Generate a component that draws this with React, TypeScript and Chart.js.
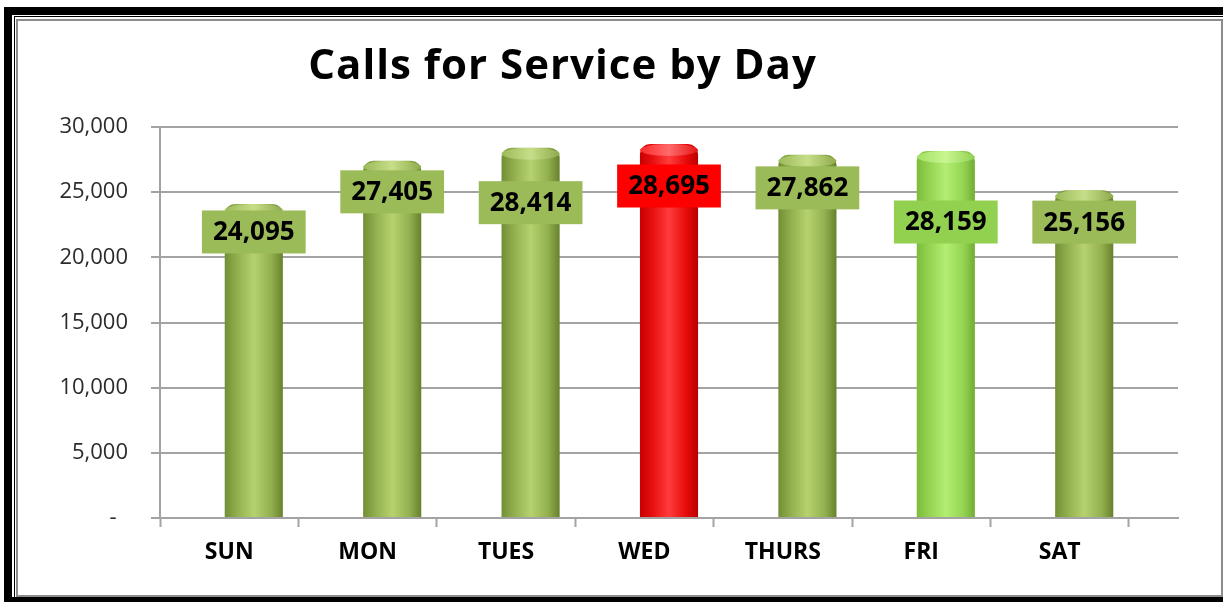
import React, { useEffect, useRef } from 'react';
import { Chart, registerables } from 'chart.js';

Chart.register(...registerables);

// ---- data ----
const TITLE = 'Calls for Service by Day';
const days = ['SUN', 'MON', 'TUES', 'WED', 'THURS', 'FRI', 'SAT'];
const calls = [24095, 27405, 28414, 28695, 27862, 28159, 25156];
const yTickValues = [0, 5000, 10000, 15000, 20000, 25000, 30000];
const yTickLabels = ['-  ', '5,000', '10,000', '15,000', '20,000', '25,000', '30,000'];

// ---- styling (not data) ----
const barTheme = ['olive', 'olive', 'olive', 'red', 'olive', 'lime', 'olive'];
const labelDrop = [28, 31, 55, 42, 33, 71, 32];

type Stops = [number, string][];
const THEMES: Record<string, { bar: Stops; cap: Stops; label: string }> = {
  olive: {
    bar: [[0, '#728e35'], [0.22, '#93b04f'], [0.5, '#b6d26f'], [0.8, '#93b04f'], [1, '#67812c']],
    cap: [[0, '#9cba5a'], [0.5, '#c6de88'], [1, '#8fab4c']],
    label: '#9bbb59',
  },
  red: {
    bar: [[0, '#c80000'], [0.22, '#e81010'], [0.5, '#ff3c3c'], [0.8, '#e60a0a'], [1, '#b80000']],
    cap: [[0, '#ff2a2a'], [0.5, '#ff6a6a'], [1, '#e41515']],
    label: '#ff0000',
  },
  lime: {
    bar: [[0, '#7cbc3a'], [0.22, '#94d452'], [0.5, '#b3ee72'], [0.8, '#94d452'], [1, '#70ad33']],
    cap: [[0, '#a2e062'], [0.5, '#c8f692'], [1, '#94d052']],
    label: '#92d050',
  },
};

const FONT = '"Open Sans", "Noto Sans", sans-serif';
const GRID = '#a3a3a3';
const DEPTH = 0.1776; // 3D depth shift in category units
const BAR_FRACTION = 0.42;
const CAP_RY = 6;

function makeGradient(c: CanvasRenderingContext2D, x0: number, x1: number, stops: Stops) {
  const g = c.createLinearGradient(x0, 0, x1, 0);
  stops.forEach(([o, col]) => g.addColorStop(o, col));
  return g;
}

const cylinderPlugin = {
  id: 'cylinderCaps',
  afterDatasetsDraw(chart: any) {
    const c: CanvasRenderingContext2D = chart.ctx;
    const meta = chart.getDatasetMeta(0);
    c.save();
    meta.data.forEach((bar: any, i: number) => {
      const { x, y, width } = bar.getProps(['x', 'y', 'width'], true);
      const rx = width / 2;
      const th = THEMES[barTheme[i]];
      c.beginPath();
      c.ellipse(x, y + CAP_RY, rx, CAP_RY, 0, 0, Math.PI * 2);
      c.fillStyle = makeGradient(c, x - rx, x + rx, th.cap);
      c.fill();
    });
    // data labels
    c.font = `bold 26px ${FONT}`;
    c.textAlign = 'center';
    c.textBaseline = 'middle';
    meta.data.forEach((bar: any, i: number) => {
      const { x, y } = bar.getProps(['x', 'y'], true);
      const text = calls[i].toLocaleString('en-US');
      const w = c.measureText(text).width + 22;
      const h = 43;
      const cy = y + labelDrop[i];
      c.fillStyle = THEMES[barTheme[i]].label;
      c.fillRect(x - w / 2, cy - h / 2, w, h);
      c.fillStyle = '#000';
      c.fillText(text, x, cy + 1);
    });
    c.restore();
  },
};

const titlePlugin = {
  id: 'offsetTitle',
  afterDraw(chart: any) {
    const c: CanvasRenderingContext2D = chart.ctx;
    c.save();
    c.font = `bold 42px ${FONT}`;
    (c as any).letterSpacing = '1px';
    c.fillStyle = '#000';
    c.textAlign = 'center';
    c.textBaseline = 'alphabetic';
    c.fillText(TITLE, chart.width * 0.46, chart.chartArea.top - 48);
    c.restore();
  },
};

export default function App() {
  const ref = useRef<HTMLCanvasElement | null>(null);

  useEffect(() => {
    if (!ref.current) return;
    const chart = new Chart(ref.current, {
      type: 'bar',
      data: {
        datasets: [
          {
            data: calls.map((v, i) => ({ x: i, y: v })),
            xAxisID: 'xb',
            yAxisID: 'y',
            categoryPercentage: 1,
            barPercentage: BAR_FRACTION,
            borderSkipped: 'bottom',
            borderRadius: { topLeft: 10, topRight: 10, bottomLeft: 0, bottomRight: 0 },
            backgroundColor: (ctx: any) => {
              const chart = ctx.chart;
              const i = ctx.dataIndex ?? 0;
              const th = THEMES[barTheme[i]] || THEMES.olive;
              const xs = chart.scales && chart.scales.xb;
              if (!xs || !chart.chartArea) return th.label;
              const cx = xs.getPixelForValue(i);
              const half = ((xs.getPixelForValue(1) - xs.getPixelForValue(0)) * BAR_FRACTION) / 2;
              if (!isFinite(cx) || !isFinite(half) || half <= 0) return th.label;
              return makeGradient(chart.ctx, cx - half, cx + half, th.bar);
            },
          } as any,
        ],
      },
      options: {
        animation: false,
        responsive: true,
        maintainAspectRatio: false,
        layout: { padding: { top: 127, right: 45, bottom: 0, left: 0 } },
        plugins: {
          legend: { display: false },
          title: { display: false },
          tooltip: { enabled: false },
        },
        scales: {
          x: {
            type: 'linear',
            position: 'bottom',
            offset: false,
            min: -0.5,
            max: days.length - 0.5 + 2 * DEPTH,
            afterBuildTicks: (s: any) => {
              const t = [];
              for (let k = 0; k <= 2 * days.length; k++) t.push({ value: -0.5 + k * 0.5 });
              s.ticks = t;
            },
            afterFit: (s: any) => {
              s.height = 84;
            },
            ticks: {
              autoSkip: false,
              maxRotation: 0,
              minRotation: 0,
              padding: 12,
              color: '#000',
              font: { family: FONT, size: 23, weight: 'bold' },
              callback: (v: any) => (Number.isInteger(v) ? days[v] : ''),
            },
            grid: {
              display: true,
              offset: false,
              drawOnChartArea: false,
              drawTicks: true,
              tickLength: 9,
              tickWidth: 2,
              tickColor: (ctx: any) =>
                ctx.tick && Number.isInteger(ctx.tick.value) ? 'rgba(0,0,0,0)' : GRID,
            },
            border: { display: true, color: GRID, width: 2 },
          } as any,
          xb: {
            type: 'linear',
            display: false,
            offset: false,
            min: -0.5 - DEPTH,
            max: days.length - 0.5 + DEPTH,
            grid: { offset: false },
            afterBuildTicks: (s: any) => {
              s.ticks = days.map((_, i) => ({ value: i }));
            },
          } as any,
          y: {
            type: 'linear',
            min: 0,
            max: 30000,
            afterBuildTicks: (s: any) => {
              s.ticks = yTickValues.map((v) => ({ value: v }));
            },
            afterFit: (s: any) => {
              s.width = 160;
            },
            ticks: {
              padding: 23,
              color: '#2b2b2b',
              font: { family: FONT, size: 22 },
              callback: (v: any) => {
                const k = yTickValues.indexOf(v);
                return k >= 0 ? yTickLabels[k] : '';
              },
            },
            grid: {
              color: GRID,
              lineWidth: 2,
              drawTicks: true,
              tickLength: 9,
            },
            border: { display: true, color: GRID, width: 2 },
          } as any,
        },
      },
      plugins: [cylinderPlugin, titlePlugin],
    });
    return () => chart.destroy();
  }, []);

  return (
    <div
      style={{
        position: 'fixed',
        left: 0,
        top: 0,
        width: 1223,
        height: 602,
        background: '#fff',
        overflow: 'hidden',
      }}
    >
      <div
        style={{
          position: 'absolute',
          left: 4,
          top: 7,
          width: 1219,
          height: 595,
          boxSizing: 'border-box',
          borderTop: '8px solid #000',
          borderLeft: '8px solid #000',
          borderBottom: '5px solid #000',
        }}
      />
      <div
        style={{
          position: 'absolute',
          left: 14,
          top: 16,
          width: 1209,
          height: 581,
          boxSizing: 'border-box',
          borderTop: '1px solid #000',
          borderLeft: '1px solid #000',
        }}
      />
      <div
        style={{
          position: 'absolute',
          left: 16,
          top: 19,
          width: 1207,
          height: 578,
          boxSizing: 'border-box',
          border: '2px solid #8c8c8c',
        }}
      />
      <div style={{ position: 'absolute', left: 0, top: 0, width: 1223, height: 602 }}>
        <canvas ref={ref} />
      </div>
    </div>
  );
}
